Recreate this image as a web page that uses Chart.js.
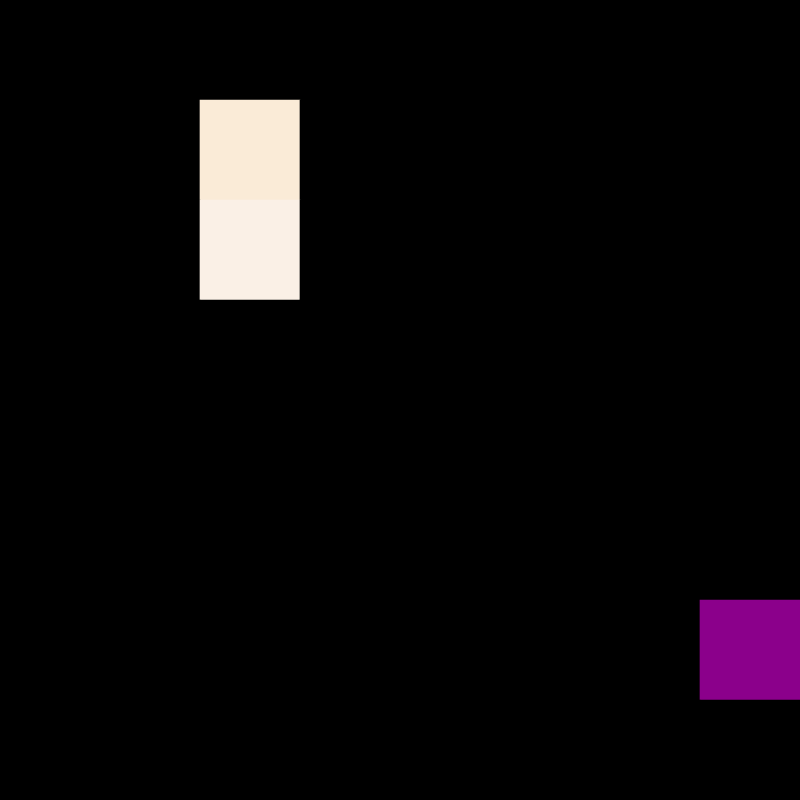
<!DOCTYPE html>
<html>
<head>
<meta charset="utf-8">
<script src="https://cdn.jsdelivr.net/npm/chart.js@4/dist/chart.umd.min.js"></script>
<style>
  html, body { margin: 0; padding: 0; background: #000000; overflow: hidden; }
  #c { display: block; }
</style>
</head>
<body>
<canvas id="c" width="800" height="800"></canvas>
<script>
// Column labels (left to right)
const columns = ['0', '1', '2', '3', '4', '5', '6', '7'];
// Row labels (top to bottom)
const rowLabels = ['0', '1', '2', '3', '4', '5', '6', '7'];
// Colour palette indexed by cell value
const palette = ['#000000', '#FAEBD7', '#FAF0E6', '#8B008B'];
// Cell values, one array per row (top to bottom)
const row0 = [0, 0, 0, 0, 0, 0, 0, 0];
const row1 = [0, 0, 1, 0, 0, 0, 0, 0];
const row2 = [0, 0, 2, 0, 0, 0, 0, 0];
const row3 = [0, 0, 0, 0, 0, 0, 0, 0];
const row4 = [0, 0, 0, 0, 0, 0, 0, 0];
const row5 = [0, 0, 0, 0, 0, 0, 0, 0];
const row6 = [0, 0, 0, 0, 0, 0, 0, 3];
const row7 = [0, 0, 0, 0, 0, 0, 0, 0];
const rows = [row0, row1, row2, row3, row4, row5, row6, row7];

// Stacked bars: first dataset is the bottom row
const datasets = rows.slice().reverse().map((r, i) => ({
  label: rowLabels[rows.length - 1 - i],
  data: r.map(() => 1),
  backgroundColor: r.map(v => palette[v]),
  borderWidth: 0,
  borderSkipped: false,
  barPercentage: 1.0,
  categoryPercentage: 1.0
}));

new Chart(document.getElementById('c'), {
  type: 'bar',
  data: { labels: columns, datasets: datasets },
  options: {
    responsive: false,
    devicePixelRatio: 1,
    animation: false,
    layout: { padding: 0 },
    plugins: { legend: { display: false }, tooltip: { enabled: false } },
    scales: {
      x: { stacked: true, display: false, offset: true, grid: { display: false } },
      y: { stacked: true, display: false, min: 0, max: rows.length, grid: { display: false } }
    }
  }
});
</script>
</body>
</html>
